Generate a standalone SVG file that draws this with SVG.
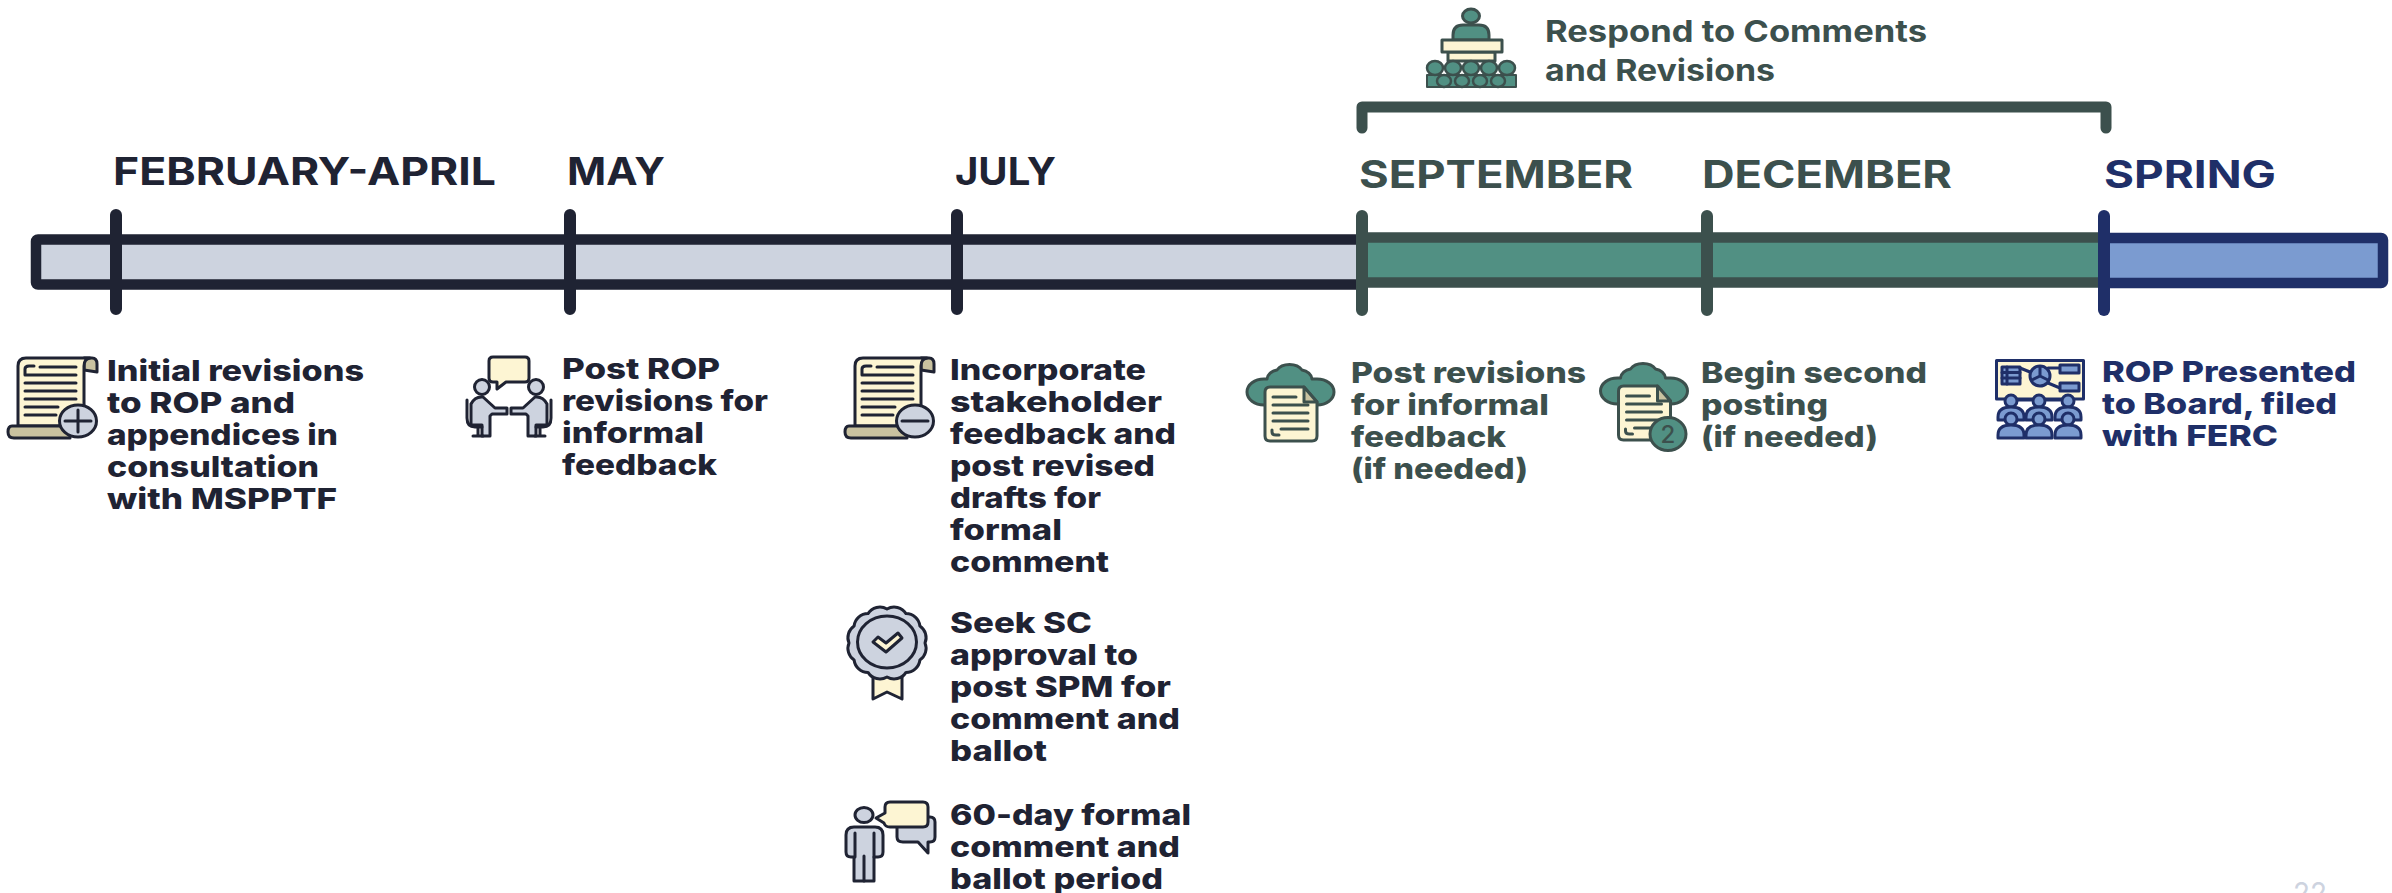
<svg xmlns="http://www.w3.org/2000/svg" xmlns:xlink="http://www.w3.org/1999/xlink" width="2392" height="893" viewBox="0 0 2392 893">
<style>
text{font-family:"Inter","Liberation Sans",sans-serif;font-weight:700}
.h{font-size:38px}.b{font-size:29px;font-weight:800}.r{font-size:30px}
.dk{fill:#1f2333}.gn{fill:#3c504d}.nv{fill:#1f2f68}
.bar{stroke-width:10.5;stroke-linejoin:round}
.tick{fill:none;stroke-width:12;stroke-linecap:round}
.id{stroke:#1f2333;stroke-width:3;stroke-linejoin:round;stroke-linecap:round}
.ig{stroke:#3c504d;stroke-width:3;stroke-linejoin:round;stroke-linecap:round}
.in{stroke:#1f2f68;stroke-width:3;stroke-linejoin:round;stroke-linecap:round}
.y{fill:#fdf5d3}.g{fill:#cdd3df}.t{fill:#519083}.bl{fill:#7b9bd0}.tan{fill:#c9c2a0}.no{fill:none}
</style>
<defs>
<g id="scroll" class="id">
<path class="tan" d="M84 358h8q5 0 5 6v8l-13 -2z"/>
<path class="y" d="M26 358H90q-6 1 -6 8V426H18V366q0 -8 8 -8z"/>
<path class="tan" d="M12 426H70V438H14q-6 0 -6 -6t4 -6z"/>
<path class="no" d="M25 375v-6q0 -3 4 -3h5M40 367H76M25 375H76M25 383H76M25 391H76M25 399H76M25 407H58M25 415H56"/>
</g>
<g id="doc">
<path class="t" d="M1264 405a17 13 0 0 1 0 -26q2 0 3 0a12 10 0 0 1 10 -9a14 10 0 0 1 25 0a12 10 0 0 1 10 9q3 0 5 0a17 13 0 0 1 0 26z"/>
<path class="y" d="M1270 387H1304L1317 402V436q0 5 -5 5H1270q-5 0 -5 -5V392q0 -5 5 -5z"/>
<path class="tan" d="M1304 387V402H1317z"/>
<path class="no" d="M1273 397H1296M1273 405H1308M1273 413H1308M1273 421H1308M1281 429H1308M1272 430v2q0 3 4 3h3"/>
</g>
<g id="person" class="in">
<circle class="bl" cx="0" cy="0" r="6"/>
<path class="bl" d="M-13 19V16q0 -10 13 -10t13 10v3z"/>
</g>
</defs>

<g id="connectors">
<rect class="g bar" x="36" y="239.5" width="1326" height="45" rx="2" stroke="#1f2333"/>
<rect class="t bar" x="1362" y="237.5" width="742" height="45" stroke="#3c504d"/>
<rect class="bl bar" x="2104" y="238" width="279" height="45" rx="2" stroke="#1f2f68" stroke-width="11"/>
<path class="tick" stroke="#1f2333" d="M116 215V309M570 215V309M957 215V309"/>
<path class="tick" stroke="#3c504d" d="M1362 216V310M1707 216V310"/>
<path class="tick" stroke="#1f2f68" d="M2104 216V310"/>
<path fill="none" stroke="#3c504d" stroke-width="11" stroke-linecap="round" stroke-linejoin="round" d="M1362 128V107H2106V128"/>
</g>

<g id="n-feb">
<text class="h dk" x="113" y="185" textLength="383" lengthAdjust="spacingAndGlyphs">FEBRUARY-APRIL</text>
<use xlink:href="#scroll" href="#scroll"/>
<ellipse class="g id" cx="78" cy="421" rx="18.500" ry="16"/>
<path class="no id" d="M78 410V432M65 421H91"/>
<text class="b dk" x="107" y="381" textLength="257" lengthAdjust="spacingAndGlyphs">Initial revisions</text>
<text class="b dk" x="107" y="413" textLength="188" lengthAdjust="spacingAndGlyphs">to ROP and</text>
<text class="b dk" x="107" y="445" textLength="231" lengthAdjust="spacingAndGlyphs">appendices in</text>
<text class="b dk" x="107" y="477" textLength="212" lengthAdjust="spacingAndGlyphs">consultation</text>
<text class="b dk" x="107" y="509" textLength="230" lengthAdjust="spacingAndGlyphs">with MSPPTF</text>
</g>

<g id="n-may">
<text class="h dk" x="567" y="185" textLength="98" lengthAdjust="spacingAndGlyphs">MAY</text>
<g class="id">
<path class="y" d="M493 357H525q4 0 4 4V378q0 4 -4 4H506L497 389V382H493q-4 0 -4 -4V361q0 -4 4 -4z"/>
<g id="sitter">
<circle class="g" cx="482" cy="387" r="7.500"/>
<path class="g" d="M471 404q4 -8 12 -7L495 408H507V414H492L490 416V436H482V425H471z"/>
<path class="no" d="M467 400V418q0 9 8 9H482M478 428V436M473 436H483"/>
</g>
<use xlink:href="#sitter" href="#sitter" transform="translate(1018 0) scale(-1 1)"/>
</g>
<text class="b dk" x="562" y="379" textLength="158" lengthAdjust="spacingAndGlyphs">Post ROP</text>
<text class="b dk" x="562" y="411" textLength="206" lengthAdjust="spacingAndGlyphs">revisions for</text>
<text class="b dk" x="562" y="443" textLength="142" lengthAdjust="spacingAndGlyphs">informal</text>
<text class="b dk" x="562" y="475" textLength="155" lengthAdjust="spacingAndGlyphs">feedback</text>
</g>

<g id="n-jul">
<text class="h dk" x="955" y="185" textLength="101" lengthAdjust="spacingAndGlyphs">JULY</text>
<use xlink:href="#scroll" href="#scroll" x="837"/>
<ellipse class="g id" cx="915" cy="421" rx="18.500" ry="16"/>
<path class="no id" d="M902 421H928"/>
<text class="b dk" x="950" y="380" textLength="196" lengthAdjust="spacingAndGlyphs">Incorporate</text>
<text class="b dk" x="950" y="412" textLength="212" lengthAdjust="spacingAndGlyphs">stakeholder</text>
<text class="b dk" x="950" y="444" textLength="226" lengthAdjust="spacingAndGlyphs">feedback and</text>
<text class="b dk" x="950" y="476" textLength="205" lengthAdjust="spacingAndGlyphs">post revised</text>
<text class="b dk" x="950" y="508" textLength="151" lengthAdjust="spacingAndGlyphs">drafts for</text>
<text class="b dk" x="950" y="540" textLength="112" lengthAdjust="spacingAndGlyphs">formal</text>
<text class="b dk" x="950" y="572" textLength="159" lengthAdjust="spacingAndGlyphs">comment</text>
</g>

<g id="n-seek">
<g class="id">
<path class="y" d="M873 672V699L887 692L902 699V672z"/>
<path class="g" d="M925 643A14 14 0 0 1 919.900 660A14 14 0 0 1 906 672.400A14 14 0 0 1 887 677A14 14 0 0 1 868 672.400A14 14 0 0 1 854.100 660A14 14 0 0 1 849 643A14 14 0 0 1 854.100 626A14 14 0 0 1 868 613.600A14 14 0 0 1 887 609A14 14 0 0 1 906 613.600A14 14 0 0 1 919.900 626A14 14 0 0 1 925 643z"/>
<ellipse class="g" cx="887" cy="642" rx="29.500" ry="26"/>
<path class="y" d="M873 642L878 637L886 643L898 633L902 638L886 652z"/>
</g>
<text class="b dk" x="950" y="633" textLength="142" lengthAdjust="spacingAndGlyphs">Seek SC</text>
<text class="b dk" x="950" y="665" textLength="188" lengthAdjust="spacingAndGlyphs">approval to</text>
<text class="b dk" x="950" y="697" textLength="221" lengthAdjust="spacingAndGlyphs">post SPM for</text>
<text class="b dk" x="950" y="729" textLength="230" lengthAdjust="spacingAndGlyphs">comment and</text>
<text class="b dk" x="950" y="761" textLength="97" lengthAdjust="spacingAndGlyphs">ballot</text>
</g>

<g id="n-60day">
<g class="id">
<path class="g" d="M925 817h5q5 0 5 5v15q0 5 -5 5h-2v11l-10 -11H903q-6 0 -6 -5v-20z"/>
<path class="y" d="M890 802H923q5 0 5 5V822q0 5 -5 5H890q-5 0 -6 -4L876 818L885 813V807q0 -5 5 -5z"/>
<ellipse class="g" cx="864" cy="815" rx="9" ry="7.500"/>
<path class="g" d="M854 827H875q8 0 8 8V852q0 5 -5 5H874V881H854V857H851q-5 0 -5 -5V835q0 -8 8 -8z"/>
<path class="no" d="M855 833V857M874 833V857M864 856V881"/>
</g>
<text class="b dk" x="950" y="825" textLength="241" lengthAdjust="spacingAndGlyphs">60-day formal</text>
<text class="b dk" x="950" y="857" textLength="230" lengthAdjust="spacingAndGlyphs">comment and</text>
<text class="b dk" x="950" y="889" textLength="213" lengthAdjust="spacingAndGlyphs">ballot period</text>
</g>

<g id="n-sep">
<text class="h gn" x="1359" y="188" textLength="274" lengthAdjust="spacingAndGlyphs">SEPTEMBER</text>
<use xlink:href="#doc" href="#doc" class="ig"/>
<text class="b gn" x="1351" y="383" textLength="235" lengthAdjust="spacingAndGlyphs">Post revisions</text>
<text class="b gn" x="1351" y="415" textLength="198" lengthAdjust="spacingAndGlyphs">for informal</text>
<text class="b gn" x="1351" y="447" textLength="155" lengthAdjust="spacingAndGlyphs">feedback</text>
<text class="b gn" x="1351" y="479" textLength="177" lengthAdjust="spacingAndGlyphs">(if needed)</text>
</g>

<g id="n-dec">
<text class="h gn" x="1702" y="188" textLength="250" lengthAdjust="spacingAndGlyphs">DECEMBER</text>
<use xlink:href="#doc" href="#doc" class="ig" x="353.500" y="-1"/>
<ellipse class="t ig" cx="1668" cy="434" rx="18" ry="16.500"/>
<text class="gn" x="1668" y="443" text-anchor="middle" style="font-size:24px;font-weight:500">2</text>
<text class="b gn" x="1701" y="383" textLength="226" lengthAdjust="spacingAndGlyphs">Begin second</text>
<text class="b gn" x="1701" y="415" textLength="127" lengthAdjust="spacingAndGlyphs">posting</text>
<text class="b gn" x="1701" y="447" textLength="177" lengthAdjust="spacingAndGlyphs">(if needed)</text>
</g>

<g id="n-respond">
<g class="ig">
<ellipse class="t" cx="1471" cy="16" rx="8.500" ry="7"/>
<path class="t" d="M1453 40V35q0 -10 10 -10h16q10 0 10 10v5z"/>
<rect class="y" x="1448" y="52" width="47" height="9"/>
<rect class="y" x="1442" y="40" width="60" height="12"/>
<rect class="t" x="1427" y="75" width="89" height="12" style="stroke-width:2"/>
<g class="t" style="stroke-width:2.500">
<ellipse cx="1444" cy="81" rx="7" ry="6"/><ellipse cx="1462" cy="81" rx="7" ry="6"/><ellipse cx="1480" cy="81" rx="7" ry="6"/><ellipse cx="1498" cy="81" rx="7" ry="6"/>
<ellipse cx="1435" cy="68" rx="8" ry="7"/><ellipse cx="1453" cy="68" rx="8" ry="7"/><ellipse cx="1471" cy="68" rx="8" ry="7"/><ellipse cx="1489" cy="68" rx="8" ry="7"/><ellipse cx="1507" cy="68" rx="8" ry="7"/>
</g>
</g>
<text class="r gn" x="1545" y="42" textLength="382" lengthAdjust="spacingAndGlyphs">Respond to Comments</text>
<text class="r gn" x="1545" y="81" textLength="230" lengthAdjust="spacingAndGlyphs">and Revisions</text>
</g>

<g id="n-spring">
<text class="h nv" x="2104" y="188" textLength="172" lengthAdjust="spacingAndGlyphs">SPRING</text>
<g class="in">
<path class="y" d="M1996.500 360.500H2083.500V399H1996.500z"/>
<rect class="bl" x="2002" y="367" width="18" height="17"/>
<path class="no" d="M2007 367V384M2002 372.500H2020M2002 378H2020M2020 368L2030 372M2048 368H2060M2048 383L2060 388"/>
<circle class="bl" cx="2040" cy="376" r="10"/>
<path class="no" d="M2040 376V367M2040 376L2048 380M2040 376L2032 380"/>
<rect class="bl" x="2060" y="365" width="19" height="8"/>
<rect class="bl" x="2060" y="383" width="19" height="8"/>
<path class="no" d="M2018 400H2031M2047 400H2060"/>
<use xlink:href="#person" href="#person" x="2011" y="401"/>
<use xlink:href="#person" href="#person" x="2039" y="401"/>
<use xlink:href="#person" href="#person" x="2068" y="401"/>
<use xlink:href="#person" href="#person" x="2011" y="419"/>
<use xlink:href="#person" href="#person" x="2039" y="419"/>
<use xlink:href="#person" href="#person" x="2068" y="419"/>
</g>
<text class="b nv" x="2102" y="382" textLength="254" lengthAdjust="spacingAndGlyphs">ROP Presented</text>
<text class="b nv" x="2102" y="414" textLength="235" lengthAdjust="spacingAndGlyphs">to Board, filed</text>
<text class="b nv" x="2102" y="446" textLength="176" lengthAdjust="spacingAndGlyphs">with FERC</text>
</g>

<text x="2293" y="904" textLength="34" lengthAdjust="spacingAndGlyphs" style="font-size:30px;font-weight:400;fill:#cdd3df">22</text>
</svg>
